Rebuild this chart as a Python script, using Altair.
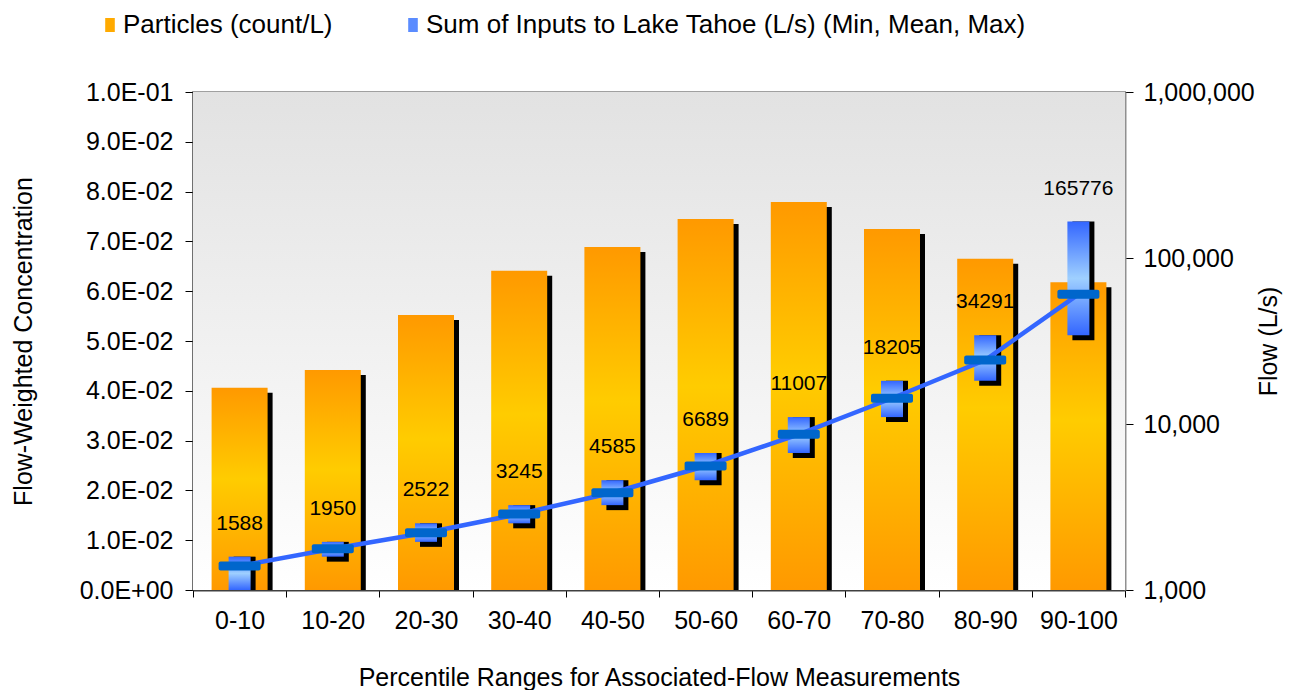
import altair as alt
import pandas as pd

# ---------------- data ----------------
cats = ["0-10", "10-20", "20-30", "30-40", "40-50", "50-60", "60-70", "70-80", "80-90", "90-100"]
particles = [0.0406, 0.0442, 0.0552, 0.0641, 0.0689, 0.0745, 0.0779, 0.0725, 0.0665, 0.0618]
flow_min = [1000, 1588, 1950, 2522, 3245, 4585, 6689, 11007, 18205, 34291]
flow_mean = [1395, 1773, 2214, 2870, 3855, 5585, 8670, 14290, 24300, 60400]
flow_max = [1588, 1950, 2522, 3245, 4585, 6689, 11007, 18205, 34291, 165776]
left_ticks = [0.0, 0.01, 0.02, 0.03, 0.04, 0.05, 0.06, 0.07, 0.08, 0.09, 0.1]
right_ticks = [1000, 10000, 100000, 1000000]
legend_labels = ["Particles (count/L)", "Sum of Inputs to Lake Tahoe (L/s) (Min, Mean, Max)"]
legend_colors = ["#ffaa00", "#5b8cff"]

FONT = "Liberation Sans"

df = pd.DataFrame({
    "cat": cats,
    "particles": particles,
    "fmin": flow_min,
    "fmean": flow_mean,
    "fmax": flow_max,
})


def grad(stops):
    return alt.LinearGradient(
        gradient="linear", x1=0, y1=0, x2=0, y2=1,
        stops=[alt.GradientStop(offset=o, color=c) for o, c in stops],
    )


orange_grad = grad([(0, "#ff9900"), (0.45, "#ffcc00"), (1, "#ff9900")])
blue_grad = grad([(0, "#3366ff"), (0.5, "#9fd0ff"), (1, "#3366ff")])
bg_grad = grad([(0, "#e2e2e2"), (1, "#ffffff")])

x_enc = alt.X(
    "cat:N", sort=cats,
    scale=alt.Scale(paddingInner=0, paddingOuter=0),
    axis=alt.Axis(
        title="Percentile Ranges for Associated-Flow Measurements",
        labelAngle=0, tickBand="extent", tickSize=7, labelPadding=11,
        titleY=87, titleBaseline="middle",
        domainColor="#404040", domainWidth=2, tickColor="#000000",
    ),
)

left_axis = alt.Axis(
    orient="left", values=left_ticks,
    labelExpr="replace(replace(format(datum.value, '.1e'), 'e-', 'E-0'), 'e+', 'E+0')",
    title="Flow-Weighted Concentration",
    tickSize=8, labelPadding=12,
    titleX=-170, titleY=249, titleAngle=270, titleAlign="center", titleBaseline="middle",
    domainColor="#404040", domainWidth=2, tickColor="#000000",
)
left_scale = alt.Scale(domain=[0, 0.1], nice=False, zero=True)

right_axis = alt.Axis(
    orient="right", values=right_ticks, format=",d",
    title="Flow (L/s)",
    tickSize=8, labelPadding=10,
    titleX=143, titleY=249, titleAngle=270, titleAlign="center", titleBaseline="middle",
    domainColor="#909090", domainWidth=2, tickColor="#000000",
)
right_scale = alt.Scale(type="log", domain=[1000, 1000000], nice=False)


def yl(field):
    return alt.Y(field, scale=left_scale, axis=left_axis)


def yr(field):
    return alt.Y(field, scale=right_scale, axis=right_axis)


base = alt.Chart(df)

bg = alt.Chart(pd.DataFrame({"k": [0]})).mark_rect(color=bg_grad).encode(
    x=alt.value(0), x2=alt.value("width"), y=alt.value(0), y2=alt.value("height")
)

orange_shadow = base.mark_bar(width=56, color="#000000", xOffset=5, yOffset=5, clip=True).encode(
    x=x_enc, y=yl("particles:Q")
)
orange_bar = base.mark_bar(width=56, color=orange_grad).encode(
    x=x_enc, y=yl("particles:Q")
)

left = alt.layer(bg, orange_shadow, orange_bar)

blue_shadow = base.mark_bar(width=22, color="#000000", xOffset=5, yOffset=5, clip=True).encode(
    x=x_enc, y=yr("fmin:Q"), y2="fmax:Q"
)
blue_bar = base.mark_bar(width=22, color=blue_grad).encode(
    x=x_enc, y=yr("fmin:Q"), y2="fmax:Q"
)
mean_line = base.mark_line(color="#3366ff", strokeWidth=4.5).encode(
    x=x_enc, y=yr("fmean:Q")
)
mean_tick = base.mark_tick(color="#0066cc", size=42, thickness=9, opacity=1, cornerRadius=2).encode(
    x=x_enc, y=yr("fmean:Q")
)
labels = base.mark_text(dy=-33, fontSize=21, font=FONT, color="#000000").encode(
    x=x_enc, y=yr("fmax:Q"), text=alt.Text("fmax:Q", format="d")
)

legend_layer = alt.Chart(pd.DataFrame({"series": legend_labels})).mark_square(opacity=0).encode(
    x=alt.value(0), y=alt.value(0),
    color=alt.Color(
        "series:N",
        scale=alt.Scale(domain=legend_labels, range=legend_colors),
        legend=alt.Legend(
            title=None, orient="none", legendX=-96, legendY=-80,
            direction="horizontal",
            symbolType="M-1.2,-1.75H1.2V1.75H-1.2Z", symbolSize=64,
            symbolStrokeWidth=0, symbolOpacity=1,
            labelFontSize=26, labelFont=FONT, labelColor="#000000",
            labelOffset=0, columnPadding=67, padding=0, labelLimit=1000,
        ),
    ),
)

right = alt.layer(blue_shadow, blue_bar, mean_line, mean_tick, labels, legend_layer)

chart = alt.layer(left, right).resolve_scale(y="independent").properties(
    width=932, height=498,
    padding={"left": 185, "top": 84, "right": 164, "bottom": 100},
    autosize=alt.AutoSizeParams(type="none"),
).configure_view(
    stroke="#a0a0a0", strokeWidth=2
).configure_axis(
    labelFont=FONT, titleFont=FONT, labelFontSize=25, titleFontSize=25,
    labelColor="#000000", titleColor="#000000", titleFontWeight="normal", grid=False,
)

chart.save("out.html", embed_options={"renderer": "svg", "actions": False})
